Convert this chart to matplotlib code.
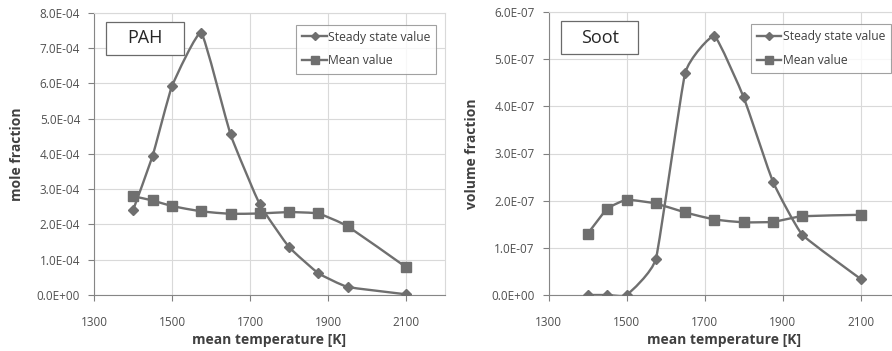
import matplotlib
matplotlib.use('Agg')
import matplotlib.pyplot as plt
import numpy as np
from matplotlib.path import Path
from matplotlib.patches import PathPatch, Rectangle
from matplotlib.lines import Line2D

plt.rcParams['font.family'] = ['Open Sans', 'DejaVu Sans']

# data
temps = [1400, 1450, 1500, 1575, 1650, 1725, 1800, 1875, 1950, 2100]
pah_steady = [2.40e-4, 3.93e-4, 5.92e-4, 7.43e-4, 4.55e-4, 2.57e-4, 1.36e-4, 0.62e-4, 0.23e-4, 0.02e-4]
pah_mean = [2.80e-4, 2.68e-4, 2.52e-4, 2.37e-4, 2.30e-4, 2.31e-4, 2.35e-4, 2.31e-4, 1.95e-4, 0.79e-4]
soot_steady = [0.0, 0.0, 0.0, 0.77e-7, 4.71e-7, 5.49e-7, 4.19e-7, 2.40e-7, 1.28e-7, 0.34e-7]
soot_mean = [1.30e-7, 1.83e-7, 2.02e-7, 1.94e-7, 1.75e-7, 1.60e-7, 1.54e-7, 1.55e-7, 1.67e-7, 1.70e-7]

pah_yticks = [0, 1e-4, 2e-4, 3e-4, 4e-4, 5e-4, 6e-4, 7e-4, 8e-4]
pah_ylabels = ['0.0E+00', '1.0E-04', '2.0E-04', '3.0E-04', '4.0E-04', '5.0E-04', '6.0E-04', '7.0E-04', '8.0E-04']
soot_yticks = [0, 1e-7, 2e-7, 3e-7, 4e-7, 5e-7, 6e-7]
soot_ylabels = ['0.0E+00', '1.0E-07', '2.0E-07', '3.0E-07', '4.0E-07', '5.0E-07', '6.0E-07']
xticks = [1300, 1500, 1700, 1900, 2100]

series_names = ['Steady state value', 'Mean value']
line_col = '#6f6f6f'
text_col = '#404040'


def smooth_path(x, y, k=1 / 16):
    # lightly smoothed line (bezier through the points)
    p = np.column_stack([x, y]).astype(float)
    ext = np.vstack([p[0], p, p[-1]])
    verts = [p[0]]
    codes = [Path.MOVETO]
    for i in range(len(p) - 1):
        p0, p1, p2, p3 = ext[i], ext[i + 1], ext[i + 2], ext[i + 3]
        c1 = p1 + (p2 - p0) * k
        c2 = p2 - (p3 - p1) * k
        verts += [c1, c2, p2]
        codes += [Path.CURVE4] * 3
    return Path(verts, codes)


def draw_panel(ax, steady, mean, yticks, ylabels, ylabel, title):
    for ys, mk, ms in [(steady, 'D', 5), (mean, 's', 7.5)]:
        ax.add_patch(PathPatch(smooth_path(temps, ys), facecolor='none',
                               edgecolor=line_col, lw=1.7, zorder=3))
        ax.plot(temps, ys, linestyle='none', marker=mk, ms=ms, color=line_col, zorder=4)
    ax.set_xlim(1300, 2200)
    ax.set_ylim(yticks[0], yticks[-1])
    ax.set_xticks(xticks)
    ax.set_xticklabels([str(t) for t in xticks])
    ax.set_yticks(yticks)
    ax.set_yticklabels(ylabels)
    ax.tick_params(labelsize=8.5, colors='#808080', labelcolor='#505050', length=4,
                   direction='out', width=0.8)
    ax.tick_params(axis='x', pad=11)
    ax.tick_params(axis='y', pad=6)
    ax.grid(True, color='#d9d9d9', lw=0.8)
    ax.set_axisbelow(True)
    for s in ['top', 'right']:
        ax.spines[s].set_color('#d9d9d9')
    for s in ['left', 'bottom']:
        ax.spines[s].set_color('#868686')
    ax.set_xlabel('mean temperature [K]', fontsize=10, fontweight='bold', color=text_col, labelpad=3)
    ax.set_ylabel(ylabel, fontsize=10, fontweight='bold', color=text_col, labelpad=9)
    ax.add_patch(Rectangle((0.035, 0.85), 0.22, 0.118, transform=ax.transAxes,
                           facecolor='white', edgecolor='#6a6a6a', lw=0.9, zorder=5))
    ax.text(0.145, 0.909, title, transform=ax.transAxes, ha='center', va='center',
            fontsize=13, color='#262626', zorder=6)
    handles = [Line2D([], [], color=line_col, lw=1.7, marker='D', ms=4),
               Line2D([], [], color=line_col, lw=1.7, marker='s', ms=6)]
    leg = ax.legend(handles, series_names, loc='upper right', bbox_to_anchor=(0.975, 0.958),
                    fontsize=8.7, frameon=True, fancybox=False, handlelength=2.0,
                    handletextpad=0.1, borderpad=0.5, labelspacing=0.9,
                    borderaxespad=0, labelcolor='#404040')
    leg.get_frame().set_edgecolor('#8a8a8a')
    leg.get_frame().set_linewidth(0.8)
    leg.set_zorder(6)


fig = plt.figure(figsize=(8.92, 3.51), dpi=100)
ax1 = fig.add_axes([94 / 892, 56 / 351, 351 / 892, 282.3 / 351])
ax2 = fig.add_axes([548.7 / 892, 56 / 351, 351 / 892, 283 / 351])

draw_panel(ax1, pah_steady, pah_mean, pah_yticks, pah_ylabels, 'mole fraction', 'PAH')
draw_panel(ax2, soot_steady, soot_mean, soot_yticks, soot_ylabels, 'volume fraction', 'Soot')

fig.savefig('out.png', dpi=100)
